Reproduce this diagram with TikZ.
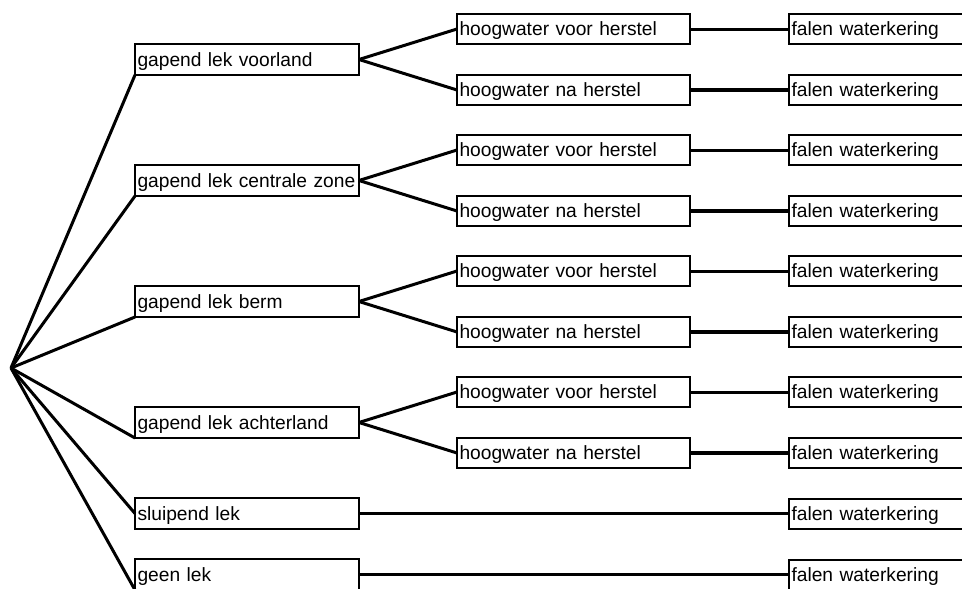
\documentclass[tikz,border=0pt]{standalone}
\usepackage{fontspec}
\setmainfont{Liberation Sans}

\tikzset{
  box/.style={draw, line width=2pt, rectangle, anchor=west, outer sep=0pt,
    inner xsep=2.5pt, inner ysep=0pt, minimum height=30pt,
    text height=15pt, text depth=2pt, align=left,
    font=\fontsize{19.2}{22}\selectfont},
  lekbox/.style={box, text width=219pt, minimum height=31pt},
  hwbox/.style={box, text width=228pt},
  faalbox/.style={box, text width=224pt},
  tak/.style={line width=3pt},
  voor/.style={line width=3pt},
  na/.style={line width=4.5pt}
}

\begin{document}
\begin{tikzpicture}[x=1pt, y=-1pt]

\clip (0,0) rectangle (962,589);

	% root
\coordinate (wortel) at (11,368);

	% gapend lek voorland
\node [lekbox] (voorland) at (135,59.5) {gapend lek voorland};
\node [hwbox] (voorland-v) at (457,29) {hoogwater voor herstel};
\node [hwbox] (voorland-n) at (457,90) {hoogwater na herstel};
\node [faalbox] (voorland-vf) at (789,29) {falen waterkering};
\node [faalbox] (voorland-nf) at (789,90) {falen waterkering};
\draw [tak] (wortel) -- (voorland.south west);
\draw [tak] (voorland.east) -- (voorland-v.west);
\draw [tak] (voorland.east) -- (voorland-n.west);
\draw [voor] (voorland-v) -- (voorland-vf);
\draw [na] (voorland-n) -- (voorland-nf);

	% gapend lek centrale zone
\node [lekbox] (centraal) at (135,180.5) {gapend lek centrale zone};
\node [hwbox] (centraal-v) at (457,150) {hoogwater voor herstel};
\node [hwbox] (centraal-n) at (457,211) {hoogwater na herstel};
\node [faalbox] (centraal-vf) at (789,150) {falen waterkering};
\node [faalbox] (centraal-nf) at (789,211) {falen waterkering};
\draw [tak] (wortel) -- (centraal.south west);
\draw [tak] (centraal.east) -- (centraal-v.west);
\draw [tak] (centraal.east) -- (centraal-n.west);
\draw [voor] (centraal-v) -- (centraal-vf);
\draw [na] (centraal-n) -- (centraal-nf);

	% gapend lek berm
\node [lekbox] (berm) at (135,301.5) {gapend lek berm};
\node [hwbox] (berm-v) at (457,271) {hoogwater voor herstel};
\node [hwbox] (berm-n) at (457,332) {hoogwater na herstel};
\node [faalbox] (berm-vf) at (789,271) {falen waterkering};
\node [faalbox] (berm-nf) at (789,332) {falen waterkering};
\draw [tak] (wortel) -- (berm.south west);
\draw [tak] (berm.east) -- (berm-v.west);
\draw [tak] (berm.east) -- (berm-n.west);
\draw [voor] (berm-v) -- (berm-vf);
\draw [na] (berm-n) -- (berm-nf);

	% gapend lek achterland
\node [lekbox] (achterland) at (135,422.5) {gapend lek achterland};
\node [hwbox] (achterland-v) at (457,392) {hoogwater voor herstel};
\node [hwbox] (achterland-n) at (457,453) {hoogwater na herstel};
\node [faalbox] (achterland-vf) at (789,392) {falen waterkering};
\node [faalbox] (achterland-nf) at (789,453) {falen waterkering};
\draw [tak] (wortel) -- (achterland.south west);
\draw [tak] (achterland.east) -- (achterland-v.west);
\draw [tak] (achterland.east) -- (achterland-n.west);
\draw [voor] (achterland-v) -- (achterland-vf);
\draw [na] (achterland-n) -- (achterland-nf);

	% sluipend lek
\node [lekbox] (sluipend) at (135,513.5) {sluipend lek};
\node [faalbox] (sluipend-f) at (789,513.5) {falen waterkering};
\draw [tak] (wortel) -- (sluipend.west);
\draw [tak] (sluipend) -- (sluipend-f);

	% geen lek
\node [lekbox] (geen) at (135,574.5) {geen lek};
\node [faalbox] (geen-f) at (789,574.5) {falen waterkering};
\draw [tak] (wortel) -- (geen.south west);
\draw [tak] (geen) -- (geen-f);

\end{tikzpicture}
\end{document}
